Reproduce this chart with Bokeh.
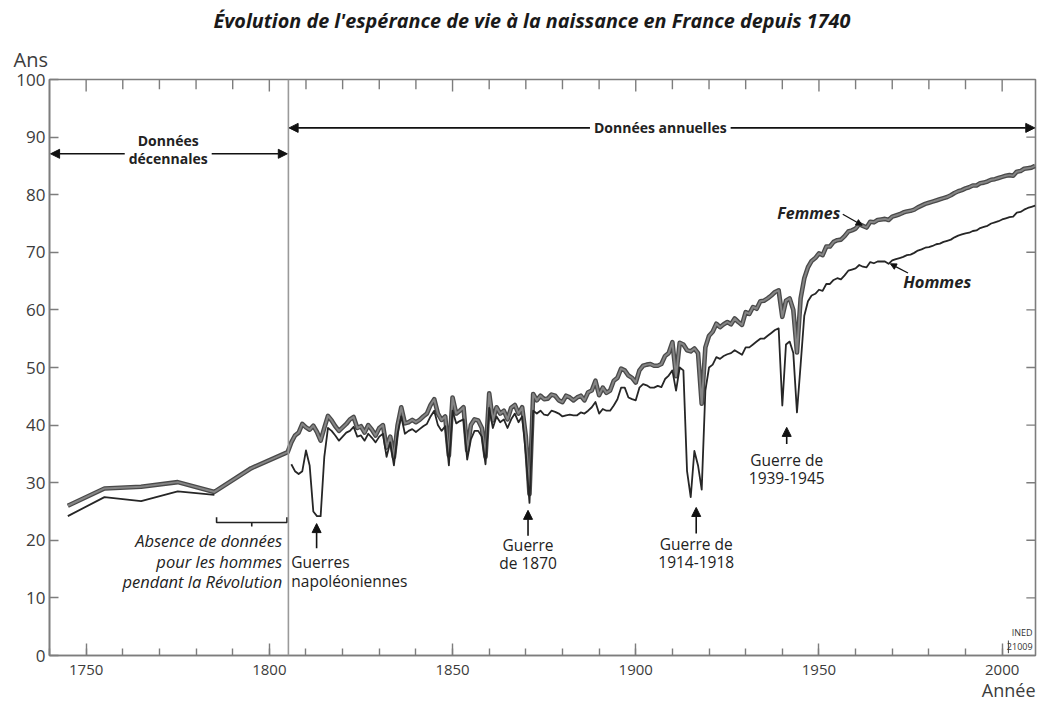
from bokeh.plotting import figure
from bokeh.models import (Range1d, SingleIntervalTicker, Label, Arrow, NormalHead, Span, Title)
from bokeh.embed import file_html
from bokeh.resources import INLINE

# ---------------- data ----------------
decade_years = [1745, 1755, 1765, 1775, 1785, 1795, 1805]
women_decade = [26.0, 29.0, 29.3, 30.1, 28.4, 32.5, 35.3]
men_decade_years = [1745, 1755, 1765, 1775, 1785]
men_decade = [24.2, 27.5, 26.8, 28.5, 27.9]

annual_years = list(range(1806, 2010))
women_annual = [
    37.0, 38.2, 38.7, 40.2, 39.6, 39.2, 39.9, 38.8, 37.3, 39.5,   # 1806-1815
    41.6, 40.8, 39.8, 39.0, 39.6, 40.2, 41.0, 41.4, 39.5, 39.8,   # 1816-1825
    38.7, 40.0, 39.2, 38.2, 39.5, 40.0, 36.1, 38.0, 34.4, 40.0,   # 1826-1835
    43.1, 40.3, 40.5, 40.9, 40.5, 40.9, 41.5, 42.0, 43.5, 44.5,   # 1836-1845
    42.0, 40.9, 41.5, 34.7, 44.8, 42.0, 42.5, 43.1, 35.6, 40.0,   # 1846-1855
    41.0, 40.8, 39.5, 34.5, 45.5, 40.8, 43.1, 42.0, 42.5, 41.0,   # 1856-1865
    43.0, 43.5, 42.0, 43.1, 38.0, 28.0, 45.4, 44.3, 45.1, 44.5,   # 1866-1875
    44.6, 45.3, 45.1, 44.3, 44.0, 45.1, 44.8, 44.3, 44.8, 45.1,   # 1876-1885
    44.3, 45.7, 46.0, 47.7, 45.2, 46.5, 45.6, 46.0, 47.7, 48.2,   # 1886-1895
    49.8, 49.5, 48.6, 48.2, 47.4, 49.5, 50.3, 50.5, 50.6, 50.3,   # 1896-1905
    50.3, 50.6, 52.0, 52.5, 54.4, 48.5, 54.3, 54.0, 53.0, 52.8,   # 1906-1915
    53.3, 52.5, 43.7, 53.5, 55.5, 56.2, 57.6, 57.0, 57.5, 57.9,   # 1916-1925
    57.5, 58.5, 57.9, 57.4, 59.6, 59.3, 60.5, 60.2, 61.5, 61.6,   # 1926-1935
    62.0, 62.5, 63.1, 63.4, 58.8, 61.6, 62.0, 60.0, 52.6, 62.0,   # 1936-1945
    65.5, 67.4, 68.5, 69.0, 69.8, 69.5, 71.0, 71.0, 71.8, 72.1,   # 1946-1955
    72.2, 72.8, 73.6, 73.8, 74.1, 74.9, 74.6, 74.3, 75.3, 75.2,   # 1956-1965
    75.6, 75.7, 75.8, 75.6, 76.2, 76.4, 76.6, 76.9, 77.1, 77.2,   # 1966-1975
    77.4, 77.8, 78.1, 78.4, 78.6, 78.8, 79.0, 79.2, 79.4, 79.6,   # 1976-1985
    79.9, 80.3, 80.6, 80.8, 81.1, 81.3, 81.6, 81.6, 82.0, 82.1,   # 1986-1995
    82.3, 82.6, 82.7, 82.9, 83.1, 83.3, 83.4, 83.3, 84.0, 84.1,   # 1996-2005
    84.5, 84.6, 84.7, 85.0,                                       # 2006-2009
]
men_annual = [
    33.2, 32.0, 31.5, 32.0, 35.6, 33.0, 25.0, 24.2, 24.2, 34.5,   # 1806-1815
    39.5, 39.0, 38.2, 37.3, 38.0, 38.7, 39.0, 39.7, 38.0, 38.2,   # 1816-1825
    37.3, 38.5, 37.8, 37.0, 38.0, 38.5, 34.5, 37.0, 33.0, 38.5,   # 1826-1835
    41.5, 38.5, 39.0, 39.3, 38.8, 39.3, 39.8, 40.2, 41.5, 42.5,   # 1836-1845
    40.0, 39.0, 39.8, 33.0, 42.5, 40.3, 40.7, 41.0, 34.0, 37.5,   # 1846-1855
    39.0, 39.0, 38.0, 33.2, 43.0, 39.5, 41.5, 40.5, 41.0, 39.5,   # 1856-1865
    41.0, 42.0, 40.5, 41.5, 35.0, 26.5, 42.5, 42.0, 42.5, 41.8,   # 1866-1875
    41.7, 42.5, 42.3, 42.0, 41.5, 41.7, 41.8, 41.7, 41.7, 42.2,   # 1876-1885
    42.0, 42.5, 43.1, 44.0, 42.0, 42.8, 42.5, 42.5, 43.4, 44.5,   # 1886-1895
    46.5, 46.5, 44.8, 44.5, 44.3, 46.5, 47.1, 46.9, 46.5, 46.5,   # 1896-1905
    46.8, 46.6, 48.0, 48.6, 49.5, 46.0, 50.0, 49.5, 32.0, 27.5,   # 1906-1915
    35.5, 33.0, 28.8, 46.0, 50.0, 50.5, 51.8, 51.5, 52.0, 52.3,   # 1916-1925
    52.5, 53.0, 52.6, 52.2, 53.5, 53.5, 54.0, 54.5, 55.0, 55.0,   # 1926-1935
    55.5, 56.0, 56.5, 56.8, 43.4, 54.0, 54.5, 52.5, 42.2, 50.5,   # 1936-1945
    59.0, 61.5, 62.5, 62.8, 63.5, 63.3, 64.5, 64.5, 65.2, 65.5,   # 1946-1955
    65.3, 66.0, 66.8, 67.0, 67.2, 67.8, 67.5, 67.4, 68.3, 68.1,   # 1956-1965
    68.4, 68.4, 68.4, 68.0, 68.6, 68.8, 69.0, 69.2, 69.5, 69.6,   # 1966-1975
    69.9, 70.3, 70.5, 70.8, 70.9, 71.1, 71.4, 71.5, 71.8, 72.0,   # 1976-1985
    72.2, 72.6, 72.9, 73.1, 73.3, 73.4, 73.7, 73.8, 74.2, 74.4,   # 1986-1995
    74.6, 75.0, 75.2, 75.4, 75.7, 75.9, 76.1, 76.2, 76.9, 77.0,   # 1996-2005
    77.4, 77.7, 77.9, 78.1,                                       # 2006-2009
]

women_years = decade_years + annual_years
women_values = women_decade + women_annual

# frame ticks on the top and right sides
top_major_ticks = [1750, 1800, 1850, 1900, 1950, 2000]
top_minor_ticks = [1760, 1770, 1780, 1790, 1810, 1820, 1830, 1840, 1860, 1870, 1880,
                   1890, 1910, 1920, 1930, 1940, 1960, 1970, 1980, 1990]
right_ticks = [10, 20, 30, 40, 50, 60, 70, 80, 90]

FONT = "Open Sans"
AXIS_COL = "#7d7d7d"
LABEL_COL = "#3c3c3c"
X0, X1 = 1740, 2009.1

p = figure(frame_width=986, frame_height=576,
           min_border_left=49, min_border_right=3, min_border_top=79, min_border_bottom=49,
           x_range=Range1d(X0, X1), y_range=Range1d(0, 100),
           output_backend="svg", toolbar_location=None)
p.xgrid.visible = False
p.ygrid.visible = False
p.outline_line_color = AXIS_COL
p.outline_line_width = 1.6
p.background_fill_color = "white"
p.border_fill_color = "white"

bottom = p.xaxis[0]
bottom.ticker = SingleIntervalTicker(interval=50, num_minor_ticks=5)
left = p.yaxis[0]
left.ticker = SingleIntervalTicker(interval=10, num_minor_ticks=0)

for ax in (bottom, left):
    ax.axis_line_color = AXIS_COL
    ax.axis_line_width = 1.6
    ax.major_tick_line_color = AXIS_COL
    ax.minor_tick_line_color = AXIS_COL
    ax.major_tick_line_width = 1.4
    ax.minor_tick_line_width = 1.4
    ax.major_tick_out = 0
    ax.minor_tick_out = 0
    ax.major_label_text_font = FONT
    ax.major_label_text_color = LABEL_COL

bottom.major_tick_in = 12
bottom.minor_tick_in = 7
left.major_tick_in = 9
left.minor_tick_in = 0
bottom.major_label_text_font_size = "15px"
bottom.major_label_standoff = 9
left.major_label_text_font_size = "17px"
left.major_label_standoff = 4

# top / right frame ticks (inward)
p.segment(x0=top_major_ticks, y0=[100] * len(top_major_ticks),
          x1=top_major_ticks, y1=[97.9] * len(top_major_ticks),
          line_color=AXIS_COL, line_width=1.4)
p.segment(x0=top_minor_ticks, y0=[100] * len(top_minor_ticks),
          x1=top_minor_ticks, y1=[98.3] * len(top_minor_ticks),
          line_color=AXIS_COL, line_width=1.4)
p.segment(x0=[X1] * len(right_ticks), y0=right_ticks,
          x1=[X1 - 2.5] * len(right_ticks), y1=right_ticks,
          line_color=AXIS_COL, line_width=1.4)

# titles outside the frame
p.add_layout(Title(text="Ans", align="left", offset=-36, standoff=14,
                   text_font=FONT, text_font_size="20px", text_font_style="normal",
                   text_color=LABEL_COL), "above")
p.title.text = "Évolution de l'espérance de vie à la naissance en France depuis 1740"
p.title.align = "left"
p.title.offset = 164
p.title.standoff = 6
p.title.text_font = FONT
p.title.text_font_size = "19.8px"
p.title.text_font_style = "bold italic"
p.title.text_color = "#1a1a1a"
p.add_layout(Title(text="Année", align="right", offset=0, standoff=-4,
                   text_font=FONT, text_font_size="18px", text_font_style="normal",
                   text_color=LABEL_COL), "below")

# separator between decennial and annual data
p.add_layout(Span(location=1805.2, dimension="height", line_color="#9a9a9a", line_width=1.6))

# series
p.line(women_years, women_values, line_color="#4a4a4a", line_width=4.6, line_join="round")
p.line(women_years, women_values, line_color="#858585", line_width=2.0, line_join="round")
p.line(men_decade_years, men_decade, line_color="#262626", line_width=1.8, line_join="round")
p.line(annual_years, men_annual, line_color="#262626", line_width=1.8, line_join="round")


def lab(x, y, text, size="15.5px", style="normal", align="center", color="#222222", bg=None):
    l = Label(x=x, y=y, text=text, text_font=FONT, text_font_size=size,
              text_font_style=style, text_align=align, text_baseline="middle",
              text_color=color)
    if bg:
        l.background_fill_color = bg
        l.padding = 4
    p.add_layout(l)


def arrow(x0, y0, x1, y1, both=False, size=9, width=1.6):
    kw = dict(x_start=x0, y_start=y0, x_end=x1, y_end=y1,
              line_color="#111111", line_width=width,
              end=NormalHead(size=size, fill_color="#111111", line_color="#111111"))
    kw["start"] = NormalHead(size=size, fill_color="#111111", line_color="#111111") if both else None
    p.add_layout(Arrow(**kw))


# period arrows
arrow(1740.3, 87.1, 1804.9, 87.1, both=True)
lab(1772.4, 86.3, "décennales", size="14px", style="bold", bg="white")
lab(1772.4, 89.4, "Données", size="14px", style="bold")
arrow(1805.4, 91.6, 2008.9, 91.6, both=True)
lab(1906.7, 91.6, "Données annuelles", size="14px", style="bold", bg="white")

# series labels
lab(1955.8, 76.9, "Femmes", size="16px", style="bold italic", align="right")
arrow(1956.5, 76.6, 1961.8, 74.7, size=6, width=1.3)
lab(1973.0, 65.0, "Hommes", size="16.5px", style="bold italic", align="left")
arrow(1974.3, 66.4, 1969.5, 68.0, size=6, width=1.3)

# revolution gap bracket and note
p.multi_line([[1785.6, 1785.6, 1804.8, 1804.8], [1795.2, 1795.2]],
             [[24.0, 23.1, 23.1, 24.0], [23.1, 22.4]],
             line_color="#222222", line_width=1.6)
lab(1803.5, 20.0, "Absence de données", size="16.5px", style="italic", align="right")
lab(1803.5, 16.4, "pour les hommes", size="16.5px", style="italic", align="right")
lab(1803.5, 12.9, "pendant la Révolution", size="16.5px", style="italic", align="right")

# war annotations
arrow(1812.9, 18.6, 1812.9, 22.9)
lab(1806.0, 16.2, "Guerres", align="left")
lab(1806.0, 13.0, "napoléoniennes", align="left")

arrow(1870.6, 20.8, 1870.6, 25.2)
lab(1870.6, 19.1, "Guerre")
lab(1870.6, 16.0, "de 1870")

arrow(1916.5, 21.2, 1916.5, 25.7)
lab(1916.5, 19.4, "Guerre de")
lab(1916.5, 16.2, "1914-1918")

arrow(1941.2, 36.7, 1941.2, 39.6)
lab(1941.2, 33.9, "Guerre de")
lab(1941.2, 30.8, "1939-1945")

# source mark
p.line([2001.7, 2001.7], [0.4, 2.6], line_color="#444444", line_width=1)
lab(2008.3, 4.0, "INED", size="9px", align="right", color="#333333")
lab(2008.3, 1.5, "21009", size="9px", align="right", color="#333333")

open("out.html", "w").write(file_html(p, INLINE))
